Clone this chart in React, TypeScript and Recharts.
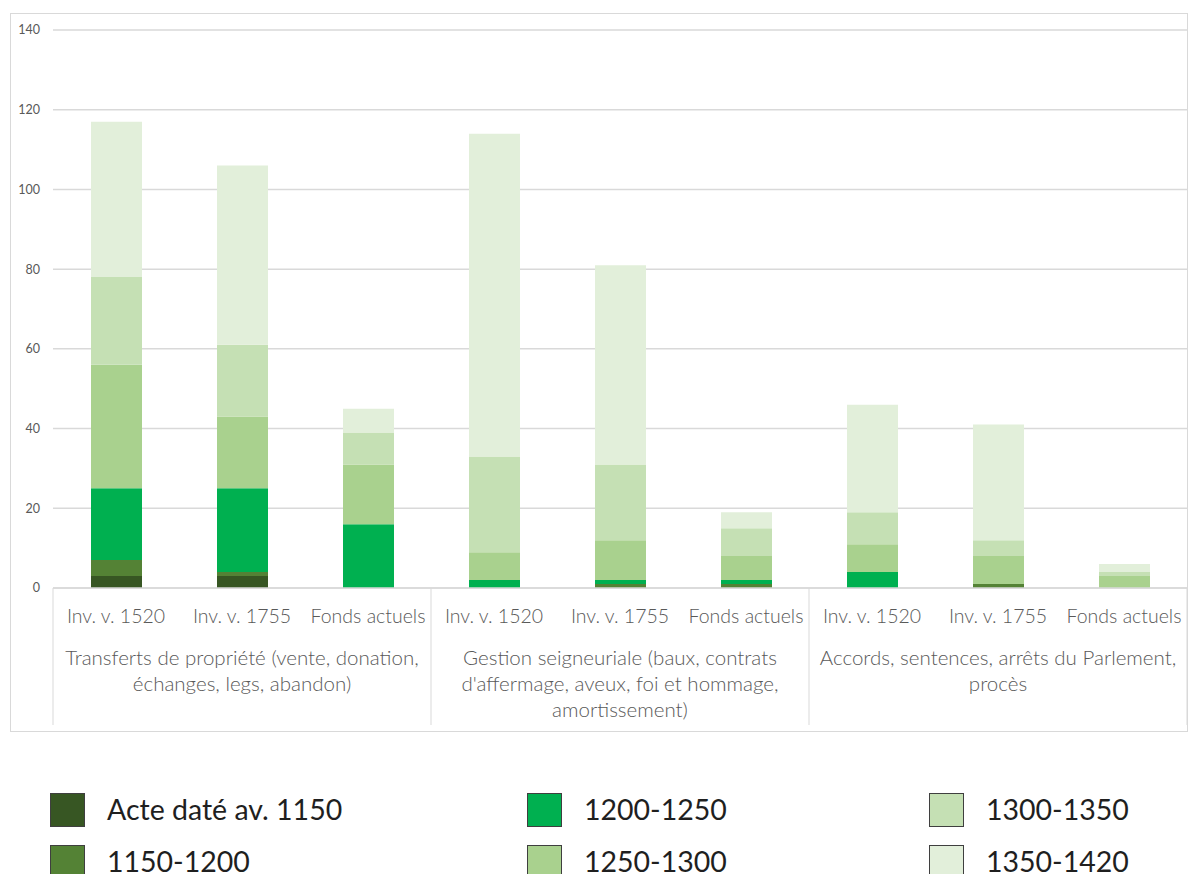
import React from 'react';
import { BarChart, Bar, XAxis, YAxis, CartesianGrid } from 'recharts';

const categories = [
  'Inv. v. 1520', 'Inv. v. 1755', 'Fonds actuels',
  'Inv. v. 1520', 'Inv. v. 1755', 'Fonds actuels',
  'Inv. v. 1520', 'Inv. v. 1755', 'Fonds actuels',
];

const groupLabels = [
  ['Transferts de propriété (vente, donation,', 'échanges, legs, abandon)'],
  ["Gestion seigneuriale (baux, contrats", "d'affermage, aveux, foi et hommage,", 'amortissement)'],
  ['Accords, sentences, arrêts du Parlement,', 'procès'],
];

const seriesNames = ['Acte daté av. 1150', '1150-1200', '1200-1250', '1250-1300', '1300-1350', '1350-1420'];
const seriesColors = ['#375623', '#548235', '#00B050', '#A9D18E', '#C5E0B4', '#E2EFDA'];

const acteAv1150 = [3, 3, 0, 0, 0, 0, 0, 0, 0];
const s1150_1200 = [4, 1, 0, 0, 1, 1, 0, 1, 0];
const s1200_1250 = [18, 21, 16, 2, 1, 1, 4, 0, 0];
const s1250_1300 = [31, 18, 15, 7, 10, 6, 7, 7, 3];
const s1300_1350 = [22, 18, 8, 24, 19, 7, 8, 4, 1];
const s1350_1420 = [39, 45, 6, 81, 50, 4, 27, 29, 2];

const yTicks = [0, 20, 40, 60, 80, 100, 120, 140];

const seriesValues = [acteAv1150, s1150_1200, s1200_1250, s1250_1300, s1300_1350, s1350_1420];

const data = categories.map((c, i) => {
  const row: Record<string, string | number> = { id: `c${i}`, cat: c };
  seriesValues.forEach((vals, k) => {
    row[`s${k}`] = vals[i];
  });
  return row;
});

const FONT = 'Lato, "Open Sans", sans-serif';
const AXIS_COLOR = '#595959';
const LINE_COLOR = '#d9d9d9';

const CHART_W = 1192;
const CHART_H = 740;
const MARGIN = { top: 30, right: 5, left: 10, bottom: 0 };
const Y_W = 43;
const X_H = 152;
const STEP = (CHART_W - MARGIN.left - MARGIN.right - Y_W) / categories.length;

const CategoryTick = (props: any) => {
  const { x, y, payload } = props;
  const i: number = payload.index;
  const half = STEP / 2;
  const g = Math.floor(i / 3);
  return (
    <g>
      <text
        x={x}
        y={y + 35}
        textAnchor="middle"
        fill={AXIS_COLOR}
        fontSize={19.5}
        fontWeight={300}
        fontFamily={FONT}
      >
        {categories[i]}
      </text>
      {i % 3 === 0 && (
        <line x1={x - half} x2={x - half} y1={y} y2={y + 137} stroke={LINE_COLOR} strokeWidth={1} />
      )}
      {i === categories.length - 1 && (
        <line x1={x + half} x2={x + half} y1={y} y2={y + 137} stroke={LINE_COLOR} strokeWidth={1} />
      )}
      {i % 3 === 1 && (
        <text
          x={x}
          y={y + 77}
          textAnchor="middle"
          fill={AXIS_COLOR}
          fontSize={20.5}
          fontWeight={300}
          fontFamily={FONT}
        >
          {groupLabels[g].map((line, k) => (
            <tspan key={k} x={x} dy={k === 0 ? 0 : 26}>
              {line}
            </tspan>
          ))}
        </text>
      )}
    </g>
  );
};

const legendCols = [50, 527, 929];
const legendRows = [792, 844];

export default function App() {
  return (
    <div
      style={{
        position: 'absolute',
        left: 0,
        top: 0,
        width: 1192,
        height: 874,
        overflow: 'hidden',
        background: '#ffffff',
      }}
    >
      <div
        style={{
          position: 'absolute',
          left: 10,
          top: 13,
          width: 1178,
          height: 719,
          border: `1px solid ${LINE_COLOR}`,
          boxSizing: 'border-box',
        }}
      />
      <div style={{ position: 'absolute', left: 0, top: 0 }}>
        <BarChart width={CHART_W} height={CHART_H} data={data} margin={MARGIN}>
          <CartesianGrid vertical={false} stroke={LINE_COLOR} strokeWidth={1.5} />
          <XAxis
            dataKey="id"
            interval={0}
            height={X_H}
            tickLine={false}
            tickSize={0}
            tickMargin={0}
            axisLine={{ stroke: LINE_COLOR, strokeWidth: 1.5 }}
            tick={<CategoryTick />}
          />
          <YAxis
            domain={[0, 140]}
            ticks={yTicks}
            width={Y_W}
            axisLine={false}
            tickLine={false}
            tickSize={0}
            tickMargin={13}
            tick={{ fill: AXIS_COLOR, fontSize: 12.5, fontFamily: FONT }}
          />
          {seriesNames.map((name, k) => (
            <Bar
              key={name}
              name={name}
              dataKey={`s${k}`}
              stackId="a"
              fill={seriesColors[k]}
              barSize={51}
              isAnimationActive={false}
            />
          ))}
        </BarChart>
      </div>
      {seriesNames.map((name, k) => {
        const col = Math.floor(k / 2);
        const row = k % 2;
        return (
          <div
            key={name}
            style={{
              position: 'absolute',
              left: legendCols[col],
              top: legendRows[row],
              display: 'flex',
              alignItems: 'center',
              height: 35,
              whiteSpace: 'nowrap',
            }}
          >
            <div
              style={{
                width: 35,
                height: 34,
                background: seriesColors[k],
                border: '1px solid #3f3f3f',
                boxSizing: 'border-box',
              }}
            />
            <span
              style={{
                marginLeft: 22,
                fontFamily: FONT,
                fontSize: 28.5,
                color: '#1f1f1f',
                lineHeight: '35px',
              }}
            >
              {name}
            </span>
          </div>
        );
      })}
    </div>
  );
}
